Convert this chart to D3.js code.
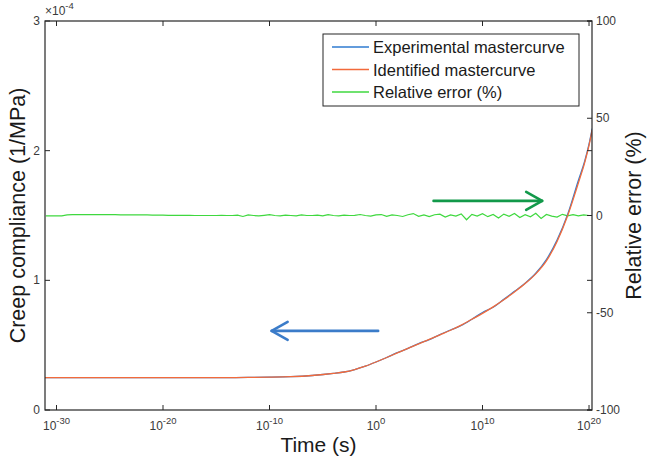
<!DOCTYPE html>
<html>
<head>
<meta charset="utf-8">
<script src="https://cdn.jsdelivr.net/npm/d3@7"></script>
<style>
body { margin: 0; background: #fff; }
svg { font-family: "Liberation Sans", Arial, sans-serif; }
</style>
</head>
<body>
<div id="chart"></div>
<script>
// log10 of time (s) for the compliance curves
var logTimes = [-31.1, -25, -20, -15, -12, -10, -8, -6, -4, -3, -2, -1, 0, 1, 2, 3, 4, 5, 6, 7, 8, 9, 10, 11, 12, 13, 14, 15, 16, 17, 18, 19, 19.6, 20, 20.3];
// identified mastercurve, units of 1e-4 1/MPa
var identified = [0.25, 0.25, 0.25, 0.25, 0.251, 0.253, 0.257, 0.266, 0.282, 0.293, 0.312, 0.338, 0.37, 0.405, 0.44, 0.475, 0.51, 0.545, 0.58, 0.615, 0.655, 0.70, 0.745, 0.795, 0.85, 0.91, 0.975, 1.05, 1.15, 1.30, 1.50, 1.75, 1.91, 2.04, 2.16];
// experimental mastercurve (tiny scatter around the fit)
var experimental = [0.25, 0.25, 0.25, 0.25, 0.251, 0.253, 0.257, 0.266, 0.282, 0.293, 0.312, 0.338, 0.37, 0.405, 0.442, 0.475, 0.512, 0.543, 0.582, 0.617, 0.652, 0.70, 0.752, 0.792, 0.853, 0.915, 0.978, 1.055, 1.16, 1.31, 1.51, 1.77, 1.92, 2.05, 2.17];

// relative error (%) sampled every half decade from 1e-31 to 1e20
var errStart = -31, errStep = 0.5;
var relError = [
  -0.2, -0.2, -0.2, -0.2, 0.3, 0.4, 0.4, 0.4, 0.4, 0.4,
  0.4, 0.4, 0.4, 0.4, 0.3, 0.3, 0.3, 0.3, 0.3, 0.3,
  0.2, 0.2, 0.2, 0.1, 0.1, 0.1, 0.1, 0.1, 0.0, 0.0,
  0.0, 0.0, 0.0, 0.1, 0.0, 0.0, 0.2, -0.5, 0.3, 0.0,
  -0.2, 0.1, 0.4, 0.0, -0.2, 0.2, 0.0, -0.2, 0.3, 0.0,
  0.0, 0.2, -0.2, 0.4, 0.0, -0.2, 0.2, 0.0, 0.1, 0.5,
  0.0, -0.3, 0.3, 0.5, -0.4, 0.3, 0.0, -0.5, 0.4, 1.0,
  -0.4, 0.3, -0.6, 0.4, 0.7, -0.8, 0.3, -0.3, 0.8, -2.2,
  0.6, -0.3, 0.9, -0.6, 0.5, -1.3, 0.7, -0.4, 1.0, -1.0,
  0.4, -0.7, 1.1, -1.5, 0.5, -0.3, -0.8, 0.6, -0.2, 0.4,
  -0.2, 0.3, 0.0
];

var yTicksLeft = [0, 1, 2, 3];
var yTicksRight = [-100, -50, 0, 50, 100];
var xTickExps = [-30, -20, -10, 0, 10, 20];

var legendItems = [
  { label: "Experimental mastercurve", color: "#2f7bd0" },
  { label: "Identified mastercurve", color: "#f26a3b" },
  { label: "Relative error (%)", color: "#3fd83f" }
];

var W = 650, H = 463;
var m = { left: 45, right: 58, top: 21, bottom: 53 };
var iw = W - m.left - m.right, ih = H - m.top - m.bottom;
var axisCol = "#262626", tickCol = "#3a3a3a";

var svg = d3.select("#chart").append("svg").attr("width", W).attr("height", H);
svg.append("defs").append("clipPath").attr("id", "clip")
  .append("rect").attr("width", iw).attr("height", ih);

var g = svg.append("g").attr("transform", "translate(" + m.left + "," + m.top + ")");

var x = d3.scaleLinear().domain([-31.08, 20.28]).range([0, iw]);
var yL = d3.scaleLinear().domain([0, 3]).range([ih, 0]);
var yR = d3.scaleLinear().domain([-100, 100]).range([ih, 0]);

var plot = g.append("g").attr("clip-path", "url(#clip)");

var errData = relError.map(function (v, i) { return [errStart + i * errStep, v]; });

plot.append("path")
  .datum(errData)
  .attr("fill", "none").attr("stroke", legendItems[2].color).attr("stroke-width", 1.2)
  .attr("d", d3.line().x(function (d) { return x(d[0]); }).y(function (d) { return yR(d[1]); }));

var lineL = d3.line().curve(d3.curveMonotoneX)
  .x(function (d) { return x(d[0]); }).y(function (d) { return yL(d[1]); });

plot.append("path")
  .datum(logTimes.map(function (t, i) { return [t, experimental[i]]; }))
  .attr("fill", "none").attr("stroke", legendItems[0].color).attr("stroke-width", 1.3)
  .attr("d", lineL);
plot.append("path")
  .datum(logTimes.map(function (t, i) { return [t, identified[i]]; }))
  .attr("fill", "none").attr("stroke", legendItems[1].color).attr("stroke-width", 1.3)
  .attr("d", lineL);

// arrows
function arrow(x1, x2, yv, col) {
  var dir = x2 > x1 ? 1 : -1;
  var ag = g.append("g").attr("stroke", col).attr("stroke-width", 2.6).attr("fill", "none")
    .attr("stroke-linecap", "round").attr("stroke-linejoin", "round");
  ag.append("line").attr("x1", x1).attr("x2", x2).attr("y1", yv).attr("y2", yv);
  ag.append("path").attr("d", "M" + (x2 - dir * 16) + "," + (yv - 9) + "L" + x2 + "," + yv + "L" + (x2 - dir * 16) + "," + (yv + 9));
}
arrow(x(5.4), x(15.6), yR(7.5), "#12994a");
arrow(x(0.2), x(-9.8), yL(0.61), "#3b7cc9");

// box + axes
g.append("rect").attr("width", iw).attr("height", ih)
  .attr("fill", "none").attr("stroke", axisCol).attr("stroke-width", 1.2);

var fs = 12;
// x ticks (bottom + mirrored top)
xTickExps.forEach(function (e) {
  var xp = x(e);
  g.append("line").attr("x1", xp).attr("x2", xp).attr("y1", ih).attr("y2", ih - 5).attr("stroke", axisCol);
  g.append("line").attr("x1", xp).attr("x2", xp).attr("y1", 0).attr("y2", 5).attr("stroke", axisCol);
  var t = g.append("text").attr("x", xp).attr("y", ih + 20).attr("text-anchor", "middle")
    .attr("font-size", fs).attr("fill", tickCol);
  t.append("tspan").text("10");
  t.append("tspan").attr("dy", -6).attr("font-size", 9.5).text(e);
});

// left ticks (left side + mirrored on right)
yTicksLeft.forEach(function (v) {
  var yp = yL(v);
  g.append("line").attr("x1", 0).attr("x2", 5).attr("y1", yp).attr("y2", yp).attr("stroke", axisCol);
  g.append("line").attr("x1", iw).attr("x2", iw - 5).attr("y1", yp).attr("y2", yp).attr("stroke", axisCol);
  g.append("text").attr("x", -5).attr("y", yp + 4).attr("text-anchor", "end")
    .attr("font-size", fs).attr("fill", tickCol).text(v);
});

// right ticks
yTicksRight.forEach(function (v) {
  var yp = yR(v);
  g.append("line").attr("x1", iw).attr("x2", iw - 5).attr("y1", yp).attr("y2", yp).attr("stroke", axisCol);
  g.append("text").attr("x", iw + 4).attr("y", yp + 4).attr("text-anchor", "start")
    .attr("font-size", fs).attr("fill", tickCol).text(v);
});

// exponent label
var ex = g.append("text").attr("x", 0).attr("y", -6).attr("font-size", fs).attr("fill", tickCol);
ex.append("tspan").text("\u00d710");
ex.append("tspan").attr("dy", -6).attr("font-size", 9.5).text("-4");

// axis titles
svg.append("text").attr("x", m.left + iw / 2).attr("y", 452).attr("text-anchor", "middle")
  .attr("font-size", 21).attr("fill", "#1a1a1a").text("Time (s)");
svg.append("text").attr("transform", "translate(25," + (m.top + ih / 2) + ") rotate(-90)")
  .attr("text-anchor", "middle").attr("font-size", 21.5).attr("fill", "#1a1a1a").text("Creep compliance (1/MPa)");
svg.append("text").attr("transform", "translate(641," + (m.top + ih / 2) + ") rotate(-90)")
  .attr("text-anchor", "middle").attr("font-size", 21.5).attr("fill", "#1a1a1a").text("Relative error (%)");

// legend
var lg = svg.append("g").attr("transform", "translate(323,34)");
lg.append("rect").attr("width", 256).attr("height", 72)
  .attr("fill", "#fff").attr("stroke", axisCol).attr("stroke-width", 1);
legendItems.forEach(function (d, i) {
  var yy = 13 + i * 22.5;
  lg.append("line").attr("x1", 9).attr("x2", 46).attr("y1", yy).attr("y2", yy)
    .attr("stroke", d.color).attr("stroke-width", 1.4);
  lg.append("text").attr("x", 50).attr("y", yy + 6).attr("font-size", 16.5)
    .attr("fill", "#1a1a1a").text(d.label);
});
</script>
</body>
</html>
